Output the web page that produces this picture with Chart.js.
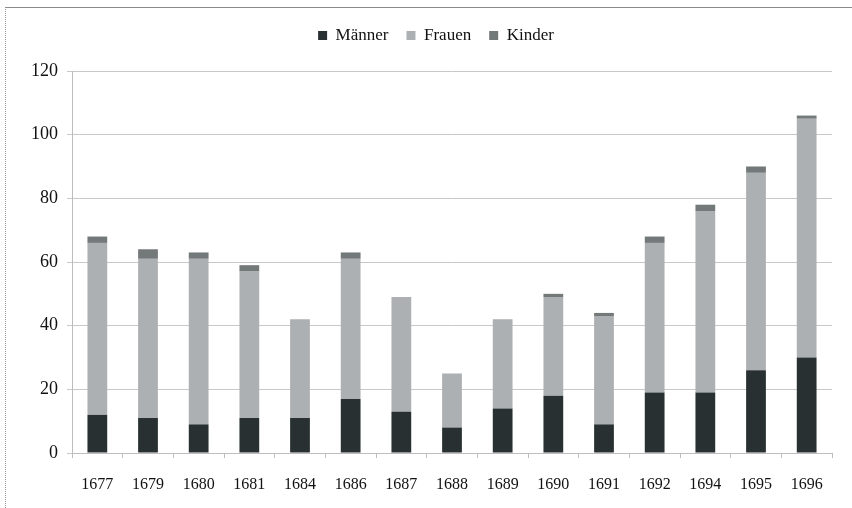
<!DOCTYPE html>
<html>
<head>
<meta charset="utf-8">
<script src="https://cdn.jsdelivr.net/npm/chart.js@4/dist/chart.umd.min.js"></script>
<style>
  html, body { margin: 0; padding: 0; background: #fff; }
  #wrap { position: relative; width: 852px; height: 508px; }
  #frame { position: absolute; left: 5px; top: 7px; right: 0; bottom: 0;
    border-top: 1px solid #8a8a8a; border-left: 1px dotted #9a9a9a; pointer-events: none; }
</style>
</head>
<body>
<div id="wrap">
  <canvas id="chart" width="852" height="508"></canvas>
  <div id="frame"></div>
</div>
<script>
// Jahre und Werte
const years = ['1677', '1679', '1680', '1681', '1684', '1686', '1687', '1688', '1689', '1690', '1691', '1692', '1694', '1695', '1696'];
const maenner = [12, 11, 9, 11, 11, 17, 13, 8, 14, 18, 9, 19, 19, 26, 30];
const frauen  = [54, 50, 52, 46, 31, 44, 36, 17, 28, 31, 34, 47, 57, 62, 75];
const kinder  = [2, 3, 2, 2, 0, 2, 0, 0, 0, 1, 1, 2, 2, 2, 1];
const yTicks = [0, 20, 40, 60, 80, 100, 120];

const serif = "'Liberation Serif', 'Times New Roman', 'DejaVu Serif', serif";

// Legende etwas nach rechts und mehr Abstand zur Grafik
const legendTweak = {
  id: 'legendTweak',
  beforeInit(chart) {
    const lg = chart.legend;
    const origFit = lg.fit;
    lg.fit = function() {
      origFit.call(this);
      this.height += 17;
    };
  },
  afterLayout(chart) {
    chart.legend.left += 20;
    chart.legend.right += 20;
  }
};

const ctx = document.getElementById('chart').getContext('2d');
new Chart(ctx, {
  type: 'bar',
  data: {
    labels: years,
    datasets: [
      { label: 'Männer', data: maenner, backgroundColor: '#283031', barPercentage: 0.78, categoryPercentage: 0.5 },
      { label: 'Frauen', data: frauen, backgroundColor: '#adb0b2', barPercentage: 0.78, categoryPercentage: 0.5 },
      { label: 'Kinder', data: kinder, backgroundColor: '#737879', barPercentage: 0.78, categoryPercentage: 0.5 }
    ]
  },
  plugins: [legendTweak],
  options: {
    responsive: false,
    animation: false,
    layout: { padding: { top: 9, right: 20, left: 0, bottom: 0 } },
    plugins: {
      legend: {
        position: 'top',
        labels: {
          font: { family: serif, size: 17 },
          color: '#111',
          boxWidth: 9,
          boxHeight: 9,
          padding: 18
        }
      },
      tooltip: { enabled: false }
    },
    scales: {
      x: {
        stacked: true,
        grid: { drawOnChartArea: false, drawTicks: true, tickLength: 5, color: '#bdbdbd' },
        border: { color: '#bdbdbd' },
        ticks: { font: { family: serif, size: 16 }, color: '#111', padding: 17, maxRotation: 0 },
        afterFit: function(scale) { scale.height = 55; }
      },
      y: {
        stacked: true,
        min: 0,
        max: 120,
        afterBuildTicks: function(scale) { scale.ticks = yTicks.map(v => ({ value: v })); },
        grid: { color: '#c8c8c8', tickLength: 5 },
        border: { color: '#bdbdbd' },
        ticks: { font: { family: serif, size: 18 }, color: '#111', padding: 9 },
        afterFit: function(scale) { scale.width = 72; }
      }
    }
  }
});
</script>
</body>
</html>
